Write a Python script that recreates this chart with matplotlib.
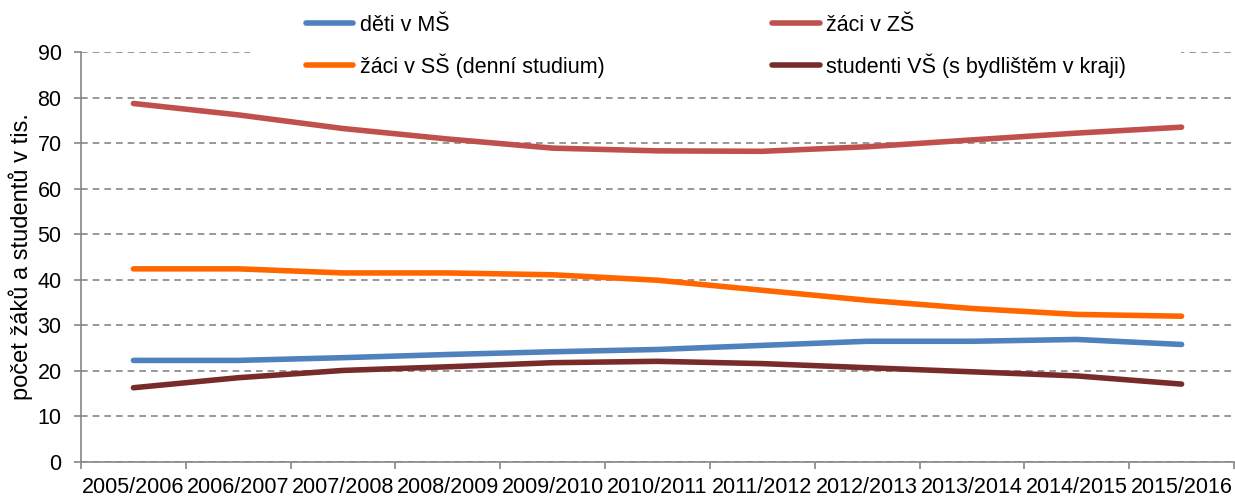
import numpy as np
import matplotlib.pyplot as plt
from matplotlib.patches import Rectangle

plt.rcParams['font.family'] = ['Liberation Sans', 'DejaVu Sans']

years = ["2005/2006", "2006/2007", "2007/2008", "2008/2009", "2009/2010",
         "2010/2011", "2011/2012", "2012/2013", "2013/2014", "2014/2015",
         "2015/2016"]

deti_ms = [22.3, 22.3, 22.9, 23.6, 24.2, 24.7, 25.6, 26.5, 26.5, 26.9, 25.8]
zaci_zs = [78.7, 76.2, 73.2, 70.9, 68.9, 68.3, 68.2, 69.2, 70.7, 72.2, 73.5]
zaci_ss = [42.4, 42.4, 41.5, 41.5, 41.1, 39.9, 37.7, 35.5, 33.7, 32.4, 32.0]
studenti_vs = [16.3, 18.5, 20.1, 20.9, 21.8, 22.1, 21.6, 20.7, 19.8, 18.9, 17.1]

labels = ["děti v MŠ", "žáci v SŠ (denní studium)",
          "žáci v ZŠ", "studenti VŠ (s bydlištěm v kraji)"]
colors = ["#4F81BD", "#FF6600", "#C0504D", "#772C2A"]

fs = 15.5

fig = plt.figure(figsize=(12.35, 4.99), dpi=100)
ax = fig.add_axes([81 / 1235, 1 - 462 / 499, 1153 / 1235, 410 / 499])

x = np.arange(len(years))
handles = []
for series, c, lab in zip([deti_ms, zaci_ss, zaci_zs, studenti_vs], colors, labels):
    h, = ax.plot(x, series, color=c, lw=4.0, solid_capstyle='round',
                 solid_joinstyle='round', label=lab, zorder=3)
    handles.append(h)

ax.set_xlim(-0.5, len(years) - 0.5)
ax.set_ylim(0, 90)
ax.set_yticks(np.arange(0, 91, 10))
ax.set_xticks(np.arange(-0.5, len(years)), labels=[])
ax.set_xticks(x, labels=years, minor=True)
ax.tick_params(axis='x', which='major', length=5, color='#868686', width=1.2)
ax.tick_params(axis='x', which='minor', length=0, pad=11, labelsize=fs)
ax.tick_params(axis='y', length=5, color='#868686', width=1.2, labelsize=fs, pad=9)

ax.grid(axis='y', color='#868686', linestyle=(0, (4, 3)), lw=1.2)
ax.set_axisbelow(True)
for s in ['top', 'right']:
    ax.spines[s].set_visible(False)
for s in ['left', 'bottom']:
    ax.spines[s].set_color('#868686')
    ax.spines[s].set_linewidth(1.2)

ax.set_ylabel("počet žáků a studentů v tis.", fontsize=17, labelpad=3)

# white box behind legend hides the top gridline
fig.patches.append(Rectangle((250 / 1235, 1 - 85 / 499), 931 / 1235, 85 / 499,
                             transform=fig.transFigure, facecolor='white',
                             edgecolor='none', zorder=1))

fig.legend(handles=handles, loc='upper left', ncol=2,
           bbox_to_anchor=(306 / 1235, 1 - 15 / 499), frameon=False,
           fontsize=fs, handlelength=2.2, handletextpad=0.3,
           columnspacing=7.8, labelspacing=0.8, borderpad=0, borderaxespad=0)

fig.savefig("out.png", dpi=100)
